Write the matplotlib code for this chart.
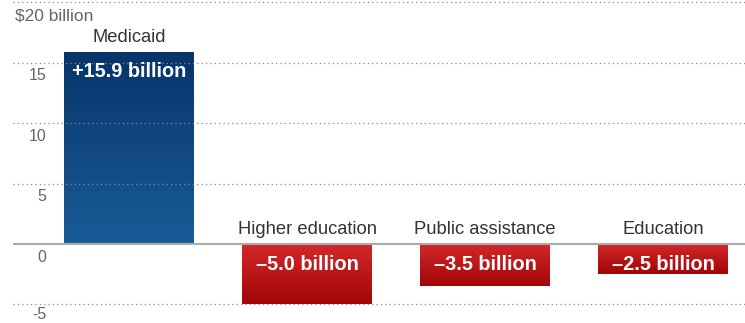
import numpy as np
import matplotlib.pyplot as plt
from matplotlib.colors import LinearSegmentedColormap

plt.rcParams['font.family'] = ['Liberation Sans', 'DejaVu Sans']

categories = ["Medicaid", "Higher education", "Public assistance", "Education"]
values = [15.9, -5.0, -3.5, -2.5]
value_labels = ["+15.9 billion", "\u20135.0 billion", "\u20133.5 billion", "\u20132.5 billion"]
y_ticks = [15, 10, 5, 0, -5]
y_tick_labels = ["15", "10", "5", "0", "-5"]
grid_lines = [20, 15, 10, 5, -5]

blue = LinearSegmentedColormap.from_list("blue", ["#1a5c98", "#07346a"])
red = LinearSegmentedColormap.from_list("red", ["#a10606", "#d4282c"])

fig = plt.figure(figsize=(7.45, 3.23), dpi=100)
ax = fig.add_axes([13 / 745, 0, 732 / 745, 1])
ax.set_xlim(-0.652, 3.461)
ax.set_ylim(-6.53, 20.17)
ax.axis("off")

width = 0.73
bars = ax.bar(range(len(values)), values, width=width, color="none", zorder=2)
grad = np.linspace(0, 1, 256).reshape(-1, 1)
for i, (bar, v) in enumerate(zip(bars, values)):
    x0 = bar.get_x()
    cmap = blue if v > 0 else red
    lo, hi = min(0, v), max(0, v)
    im = ax.imshow(grad, cmap=cmap, origin="lower", aspect="auto",
                   extent=[x0, x0 + width, lo, hi], zorder=2)
    im.set_clip_path(bar)
    bar.set_edgecolor("#ffffff")
    bar.set_linewidth(0.3)

    top = hi
    ax.annotate(categories[i], (i, top), xytext=(0, 6), textcoords="offset pixels",
                ha="center", va="bottom", fontsize=13.2, color="#333333", zorder=4)
    ax.annotate(value_labels[i], (i, top), xytext=(0, -20), textcoords="offset pixels",
                ha="center", va="center", fontsize=14.3, fontweight="bold",
                color="white", zorder=4)

for g in grid_lines:
    ax.axhline(g, color="#888888", lw=0.9, ls=(0, (1, 2.5)), zorder=3)
ax.axhline(0, color="#aaaaaa", lw=1.5, zorder=3)

for t, lab in zip(y_ticks, y_tick_labels):
    # the bottom label sits right at the figure edge, nudge it up a bit
    off = -13 if t > -5 else -10
    ax.annotate(lab, (-0.465, t), xytext=(0, off), textcoords="offset pixels",
                ha="right", va="center", fontsize=11.5, color="#666666")
ax.annotate("$20 billion", (-0.64, 20), xytext=(0, -14), textcoords="offset pixels",
            ha="left", va="center", fontsize=12.5, color="#666666")

fig.savefig("out.png", dpi=100)
